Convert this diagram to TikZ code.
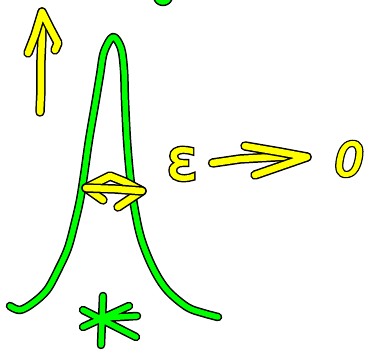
\documentclass[tikz,border=0pt]{standalone}
\usepackage{fontspec}
\newfontfamily\epsfill[FakeBold=2]{DejaVu Sans}
\newfontfamily\epsline[FakeBold=7]{DejaVu Sans}
\newfontfamily\zerofill[FakeSlant=0.2,FakeBold=2.5]{DejaVu Sans}
\newfontfamily\zeroline[FakeSlant=0.2,FakeBold=8]{DejaVu Sans}
\definecolor{ylw}{RGB}{255,255,0}
\definecolor{grn}{RGB}{0,255,0}
\newcommand\outlined[3]{\rlap{\color{black}#1#3}{\color{ylw}#2#3}}
\tikzset{
  ink/.style={line cap=round, line join=round},
  ystroke/.style={ink, draw=ylw, line width=6.5pt, preaction={draw=black, line width=9.5pt, ink}},
  gstroke/.style={ink, draw=grn, line width=5.5pt, preaction={draw=black, line width=8.5pt, ink}},
  label/.style={inner sep=0pt, anchor=center},
}
\begin{document}
\begin{tikzpicture}[x=1pt,y=-1pt]
\useasboundingbox (0,0) rectangle (368,350);
\clip (0,0) rectangle (368,350);
% top blob
\draw[gstroke] (163,-4) circle (6);
% peak curve
\draw[gstroke] plot[smooth, tension=0.55] coordinates {
  (10,306) (20,310) (33,303) (47,290) (58,270) (68,248) (75,222) (80,200)
  (84,175) (89,140) (95,105) (100,75) (104,52) (113,37) (121,48) (124,70)
  (125,100) (127,140) (130,175) (134,205) (141,238) (153,268) (167,290)
  (187,307) (203,313) (218,317)};
% up arrow
\coordinate (upbase) at (40,112);
\coordinate (uptip) at (42,12);
\draw[ystroke] (upbase) -- (41,90) -- (41,60) -- (42,35) -- (uptip);
\draw[ystroke] (28,53) -- (35,35) -- (uptip) -- (50,28) -- (58,43) -- (55,50);
% double arrow across the peak
\coordinate (dl) at (86,188);
\coordinate (dr) at (142,191);
\draw[ystroke] (103,200) -- (dl) -- (110,176) -- (125,182) -- (dr) -- (118,207);
\draw[ystroke] (dl) -- (115,189) -- (dr);
% epsilon -> 0
\node[label] (eps) at (182,164) {\fontsize{57}{57}\selectfont\outlined{\epsline}{\epsfill}{ε}};
\node[label] (zero) at (346,159) {\fontsize{46}{46}\selectfont\outlined{\zeroline}{\zerofill}{0}};
\coordinate (tip) at (307,157);
\draw[ystroke] (eps.east) ++(15,-1) -- (240,159) -- (275,157) -- (tip);
\draw[ystroke] (245,146) -- (280,152) -- (tip) -- (255,175);
% asterisk
\draw[gstroke] (103,296) -- (101,345) (83,310) -- (136,337) (83,327) -- (129,306) (103,318) -- (137,316);
\end{tikzpicture}
\end{document}
